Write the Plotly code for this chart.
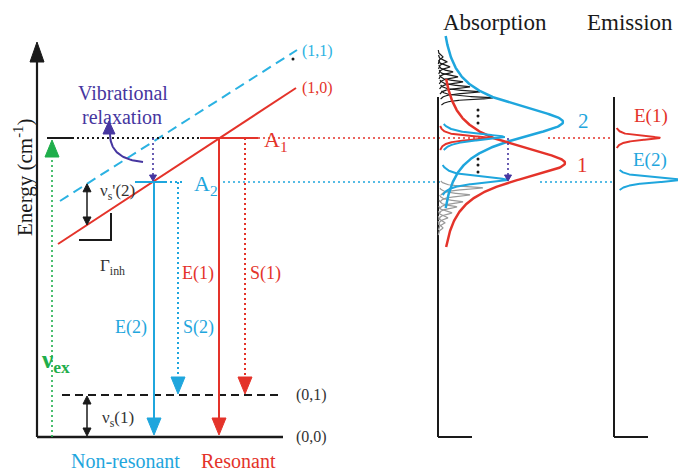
import numpy as np
import plotly.graph_objects as go

# ---------------- data (energies in diagram units, 0 = ground state (0,0)) -------------
ground_states = ["(0,0)", "(0,1)"]
ground_energy = [0, 42]

excited_bands = ["(1,0)", "(1,1)"]
band_energy_low = [193, 236]      # energy at the left end of each band line
band_energy_high = [349, 387]     # energy at the right end

site_names = ["A1", "A2"]
site_energy = [299, 255]          # resonant site A1, relaxed site A2
excitation_energy = 299

# broad inhomogeneous absorption bands "1" and "2"
band_names = ["1", "2"]
band_center = [274, 315]
band_height = [127, 125]
band_width = [22, 22]

# homogeneous (narrow) lines selected by the laser
narrow_center = [299, 300, 257]
narrow_height = [52, 66, 70]
narrow_width = [2.5, 4.0, 4.0]

# ladder of homogeneous lines under band 2 (black) and band 1 (grey)
black_center = [380, 375, 370, 365, 360, 355, 350, 345, 339]
black_height = [5, 9, 12, 15, 20, 25, 32, 42, 55]
grey_center = [249, 242, 235, 230, 224, 219, 214, 209]
grey_height = [45, 32, 25, 19, 14, 10, 7, 5]

# emission lines E(1), E(2)
emission_names = ["E(1)", "E(2)"]
emission_center = [299, 257]
emission_height = [46, 68]
emission_width = [2.5, 3.0]

# ---------------- styles ----------------
RED = "#e4332a"
CYAN = "#1fa6dd"
CYAN_L = "#2bb2e2"
PURPLE = "#4636a0"
GREEN = "#1fae4b"
BLACK = "#1a1a1a"
GREY = "#999999"
FONT = "Liberation Serif, Times New Roman, serif"

fig = go.Figure()


def line(xs, es, color, width=2.0, dash=None):
    fig.add_trace(go.Scatter(x=xs, y=es, mode="lines",
                             line=dict(color=color, width=width, dash=dash),
                             hoverinfo="skip"))


def head(x, e, direction, color, length=16, half=7):
    s = -1 if direction == "down" else 1
    xs = [x - half, x + half, x, x - half]
    es = [e - s * length, e - s * length, e, e - s * length]
    fig.add_trace(go.Scatter(x=xs, y=es, mode="lines", fill="toself",
                             fillcolor=color, line=dict(color=color, width=1),
                             hoverinfo="skip"))


def arrow_down(x, e_top, e_tip, color, dash=None, width=2.0, length=17, half=7):
    line([x, x], [e_top, e_tip + length], color, width, dash)
    head(x, e_tip, "down", color, length, half)


def text(x, e, s, color=BLACK, size=16, xanchor="center", angle=0, bold=False):
    if bold:
        s = "<b>" + s + "</b>"
    fig.add_annotation(x=x, y=e, xref="x", yref="y", text=s, showarrow=False,
                       xanchor=xanchor, yanchor="middle", textangle=angle,
                       font=dict(family=FONT, size=size, color=color))


def lorentz(c, h, w, span, base):
    e = np.linspace(c - span, c + span, 300)
    return base + h / (1 + ((e - c) / w) ** 2), e


# ---------------- left: energy diagram ----------------
x_axis = 37
# energy axis with arrow
line([x_axis, x_axis], [ground_energy[0], 377], BLACK, 2.2)
head(x_axis, 395, "up", BLACK, 20, 7)
# ground state (0,0) and (0,1)
line([x_axis, 283], [ground_energy[0]] * 2, BLACK, 2.5)
line([62, 278], [ground_energy[1]] * 2, BLACK, 2.0, "8px,5px")
text(311, ground_energy[0], ground_states[0], "#333", 16)
text(311, ground_energy[1], ground_states[1], "#333", 16)

# excited inhomogeneous bands
bx = [58, 296]
line(bx, [band_energy_low[0], band_energy_high[0]], RED, 2.0)
line([60, 297], [band_energy_low[1], band_energy_high[1]], CYAN_L, 2.0, "10px,6px")
fig.add_trace(go.Scatter(x=[293], y=[378], mode="markers",
                         marker=dict(color=BLACK, size=3), hoverinfo="skip"))
text(317, band_energy_high[0], excited_bands[0], RED, 16)
text(317, band_energy_high[1] - 1, excited_bands[1], CYAN_L, 16)

# excitation level A1
eA1, eA2 = site_energy
line([47, 72], [excitation_energy] * 2, BLACK, 2.0)
line([72, 200], [excitation_energy] * 2, BLACK, 2.0, "2px,3px")
line([200, 258], [eA1] * 2, RED, 2.0)
line([258, 490], [eA1] * 2, RED, 1.6, "2px,3px")
line([548, 613], [eA1] * 2, RED, 1.6, "2px,3px")
text(262, eA1 - 3, "A<sub>1</sub>", RED, 22, "left")

# relaxed level A2
line([135, 165], [eA2] * 2, CYAN, 2.0)
line([165, 183], [eA2] * 2, CYAN, 2.0, "2px,3px")
line([218, 440], [eA2] * 2, CYAN, 1.6, "2px,3px")
line([540, 613], [eA2] * 2, CYAN, 1.6, "2px,3px")
text(192, eA2 - 3, "A<sub>2</sub>", CYAN, 22, "left")

# green excitation arrow
line([52, 52], [ground_energy[0], excitation_energy - 17], GREEN, 1.6, "2px,3px")
head(52, excitation_energy - 2, "up", GREEN, 17, 7)
text(55, 76, "ν<sub>ex</sub>", GREEN, 25, bold=True)

# emission arrows
arrow_down(219, eA1, ground_energy[0] + 2, RED)
arrow_down(245, eA1, ground_energy[1] + 1, RED, "2px,3px")
arrow_down(154, eA2, ground_energy[0] + 2, CYAN)
arrow_down(178, eA2, ground_energy[1] + 1, CYAN, "2px,3px")
text(198, 164, "E(1)", RED, 18)
text(265, 164, "S(1)", RED, 18)
text(131, 110, "E(2)", CYAN, 18)
text(198, 110, "S(2)", CYAN, 18)

# vibrational relaxation
line([153, 153], [eA1, eA2 + 6], PURPLE, 1.6, "2px,3px")
head(153, eA2 + 1, "down", PURPLE, 6, 3.5)
t = np.linspace(0, 1, 40)
p0, p1, p2 = (143, 275), (110, 278), (110, 303)
cx = (1 - t) ** 2 * p0[0] + 2 * (1 - t) * t * p1[0] + t ** 2 * p2[0]
ce = (1 - t) ** 2 * p0[1] + 2 * (1 - t) * t * p1[1] + t ** 2 * p2[1]
line(cx, ce, PURPLE, 2.0)
head(109, 316, "up", PURPLE, 13, 6)
text(123, 344, "Vibrational", PURPLE, 20)
text(122, 320, "relaxation", PURPLE, 20)

# vibrational spacings
xv = 87
e_red = band_energy_low[0] + (xv - bx[0]) * (band_energy_high[0] - band_energy_low[0]) / (bx[1] - bx[0])
e_cy = band_energy_low[1] + (xv - 60) * (band_energy_high[1] - band_energy_low[1]) / (297 - 60)
line([xv, xv], [e_red + 7, e_cy - 7], BLACK, 1.5)
head(xv, e_cy, "up", BLACK, 8, 4)
head(xv, e_red, "down", BLACK, 8, 4)
text(117, 245, "ν<sub>s</sub>'(2)", "#333", 17)
line([xv, xv], [ground_energy[0] + 8, ground_energy[1] - 8], BLACK, 1.5)
head(xv, ground_energy[1] - 1, "up", BLACK, 8, 4)
head(xv, ground_energy[0] + 1, "down", BLACK, 8, 4)
text(118, 18, "ν<sub>s</sub>(1)", "#333", 17)

# inhomogeneous width marker
line([79, 111, 111], [197, 197, 224], BLACK, 2.0)
text(112, 170, "Γ<sub>inh</sub>", "#333", 17)

text(23, 259, "Energy (cm<sup>-1</sup>)", BLACK, 21, angle=-90)
text(125, -24, "Non-resonant", CYAN, 20)
text(238, -24, "Resonant", RED, 20)

# ---------------- absorption panel ----------------
xa = 438
line([xa, xa], [0, 340], BLACK, 2.0)
line([xa, 472], [0, 0], BLACK, 2.0)
text(495, 415, "Absorption", BLACK, 23)

for c, h in zip(black_center, black_height):
    xs, es = lorentz(c, h, 1.8, 7, xa)
    line(xs, es, BLACK, 1.2)
for c, h in zip(grey_center, grey_height):
    xs, es = lorentz(c, h, 1.8, 7, xa)
    line(xs, es, GREY, 1.2)

xs, es = lorentz(band_center[1], band_height[1], band_width[1], 86, xa)
line(xs, es, CYAN, 2.5)
xs, es = lorentz(band_center[0], band_height[0], band_width[0], 84, xa)
line(xs, es, RED, 2.5)

spans = [12, 13, 15]
cols = [RED, CYAN, CYAN]
for c, h, w, sp, col in zip(narrow_center, narrow_height, narrow_width, spans, cols):
    xs, es = lorentz(c, h, w, sp, xa)
    line(xs, es, col, 2.0)

fig.add_trace(go.Scatter(x=[478] * 6, y=[327, 321, 314, 278, 272, 265], mode="markers",
                         marker=dict(color=BLACK, size=3), hoverinfo="skip"))
line([508, 508], [eA1, eA2 + 6], PURPLE, 1.6, "2px,3px")
head(508, eA2 + 1, "down", PURPLE, 6, 3.5)
text(583, 316, band_names[1], CYAN, 21)
text(582, 272, band_names[0], RED, 21)

# ---------------- emission panel ----------------
xe = 614
line([xe, xe], [0, 340], BLACK, 2.0)
line([xe, 648], [0, 0], BLACK, 2.0)
text(630, 415, "Emission", BLACK, 23)
for c, h, w, col in zip(emission_center, emission_height, emission_width, [RED, CYAN]):
    xs, es = lorentz(c, h, w, 10, xe)
    line(xs, es, col, 2.0)
text(651, 321, emission_names[0], RED, 19)
text(650, 277, emission_names[1], CYAN, 19)

fig.update_layout(
    width=678, height=476, margin=dict(l=0, r=0, t=0, b=0),
    paper_bgcolor="white", plot_bgcolor="white", showlegend=False,
    xaxis=dict(range=[0, 678], visible=False, fixedrange=True),
    yaxis=dict(range=[-39, 437], visible=False, fixedrange=True),
)
fig.write_html("out.html", config={"displayModeBar": False},
               post_script="document.body.style.margin='0';document.body.style.overflow='hidden';")
